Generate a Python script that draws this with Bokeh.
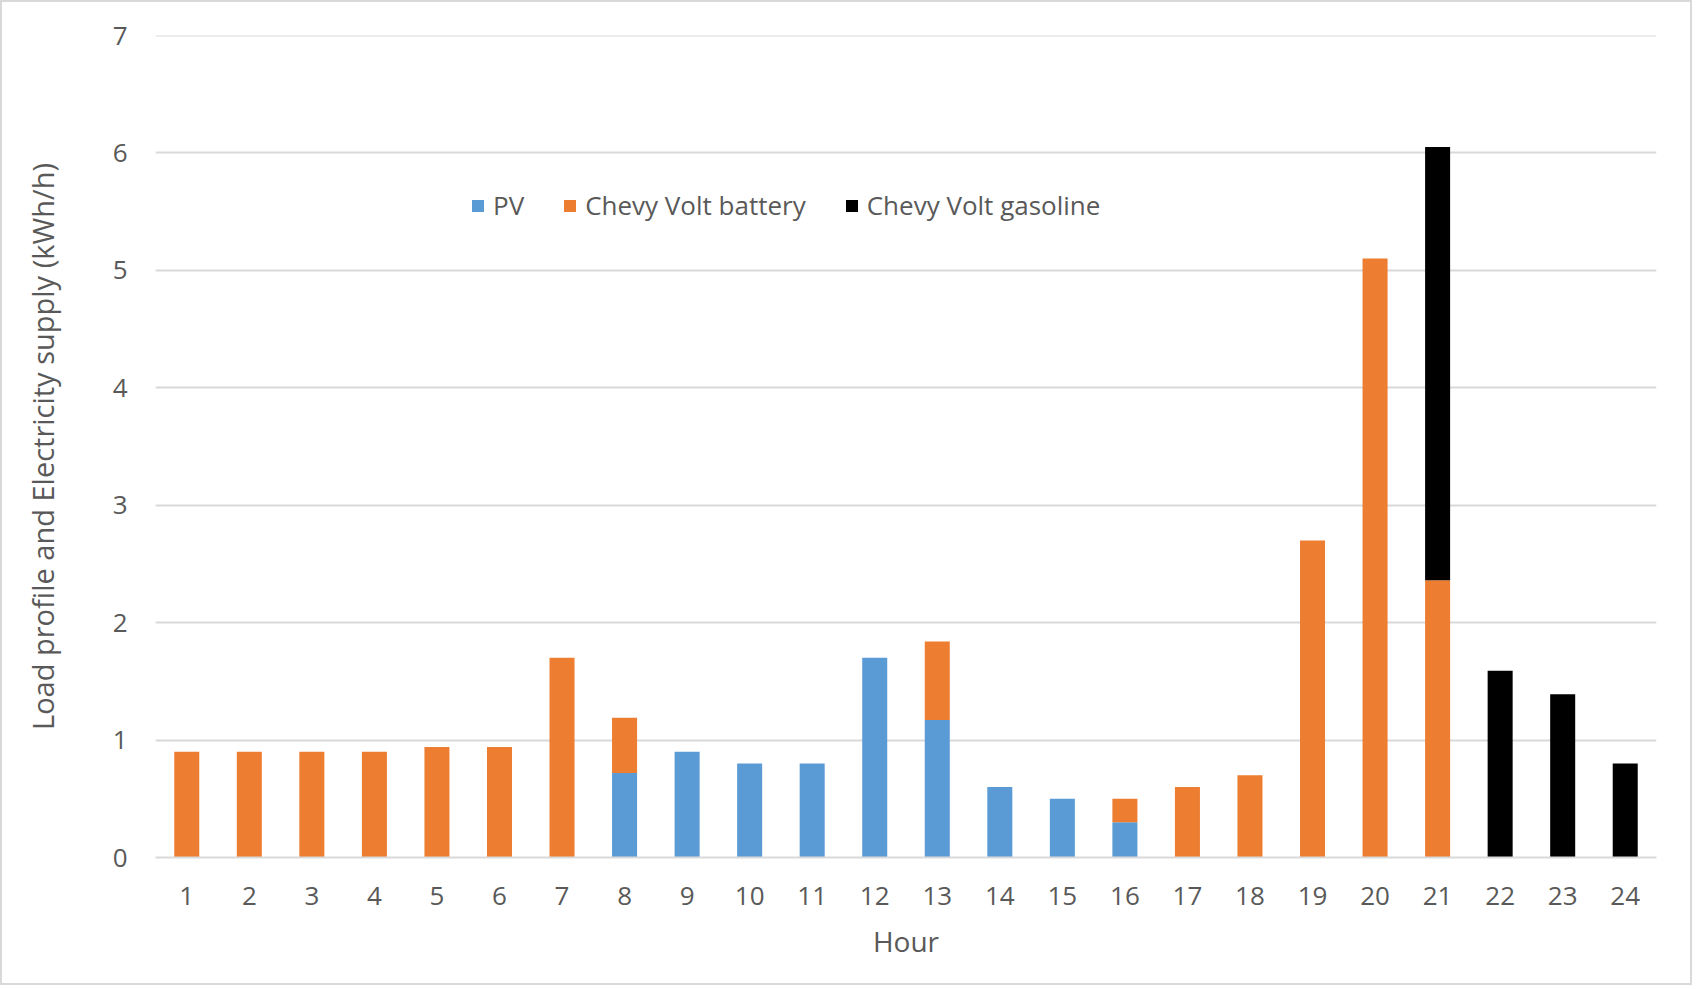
from bokeh.plotting import figure
from bokeh.models import FactorRange, Range1d, Legend, LegendItem, FixedTicker, Span
from bokeh.embed import file_html
from bokeh.resources import INLINE

hours = [str(h) for h in range(1, 25)]
pv = [0, 0, 0, 0, 0, 0, 0, 0.72, 0.9, 0.8, 0.8, 1.7, 1.17, 0.6, 0.5, 0.3, 0, 0, 0, 0, 0, 0, 0, 0]
battery = [0.9, 0.9, 0.9, 0.9, 0.94, 0.94, 1.7, 0.47, 0, 0, 0, 0, 0.67, 0, 0, 0.2, 0.6, 0.7, 2.7, 5.1, 2.36, 0, 0, 0]
gasoline = [0, 0, 0, 0, 0, 0, 0, 0, 0, 0, 0, 0, 0, 0, 0, 0, 0, 0, 0, 0, 3.69, 1.59, 1.39, 0.8]
series_names = ["PV", "Chevy Volt battery", "Chevy Volt gasoline"]
colors = ["#5B9BD5", "#ED7D31", "#000000"]
y_ticks = [0, 1, 2, 3, 4, 5, 6, 7]

FONT = "Open Sans"
TXT = "#595959"
GRID = "#d9d9d9"

p = figure(width=1692, height=985, x_range=FactorRange(*hours), y_range=Range1d(y_ticks[0], y_ticks[-1]),
           output_backend="svg", toolbar_location=None,
           min_border_left=153, min_border_right=38, min_border_top=33, min_border_bottom=130)
p.outline_line_color = None
p.background_fill_color = "white"
p.border_fill_color = "white"

data = dict(hour=hours, pv=pv, battery=battery, gasoline=gasoline)
renderers = p.vbar_stack(["pv", "battery", "gasoline"], x="hour", width=0.4, source=data,
                         color=colors, line_color=None)

p.xgrid.grid_line_color = None
p.ygrid.grid_line_color = GRID
p.ygrid.grid_line_width = 2
p.yaxis.ticker = FixedTicker(ticks=y_ticks)
p.add_layout(Span(location=y_ticks[-1], dimension="width", line_color=GRID, line_width=2))

for ax in (p.xaxis[0], p.yaxis[0]):
    ax.major_tick_line_color = None
    ax.minor_tick_line_color = None
    ax.major_tick_out = 0
    ax.major_tick_in = 0
    ax.major_label_text_font = FONT
    ax.major_label_text_font_size = "26px"
    ax.major_label_text_color = TXT
    ax.axis_label_text_font = FONT
    ax.axis_label_text_color = TXT
    ax.axis_label_text_font_style = "normal"

p.yaxis.axis_line_color = None
p.xaxis.axis_line_color = GRID
p.xaxis.axis_line_width = 2
p.yaxis.major_label_standoff = 28
p.xaxis.major_label_standoff = 29
p.xaxis.axis_label = "Hour"
p.yaxis.axis_label = "Load profile and Electricity supply (kWh/h)"
p.xaxis.axis_label_text_font_size = "28px"
p.yaxis.axis_label_text_font_size = "29px"
p.xaxis.axis_label_standoff = 14
p.yaxis.axis_label_standoff = 48

items = [LegendItem(label=n, renderers=[r]) for n, r in zip(series_names, renderers)]
legend = Legend(items=items, orientation="horizontal", location=(315, 634),
                glyph_width=15, glyph_height=15, label_standoff=8, spacing=38,
                padding=0, margin=0, border_line_color=None, background_fill_alpha=0,
                label_text_font=FONT, label_text_font_size="26px", label_text_color=TXT,
                label_width=0)
p.add_layout(legend, "center")

p.stylesheets = [":host { border: 2px solid #d9d9d9; }"]

open("out.html", "w").write(file_html(p, INLINE))
